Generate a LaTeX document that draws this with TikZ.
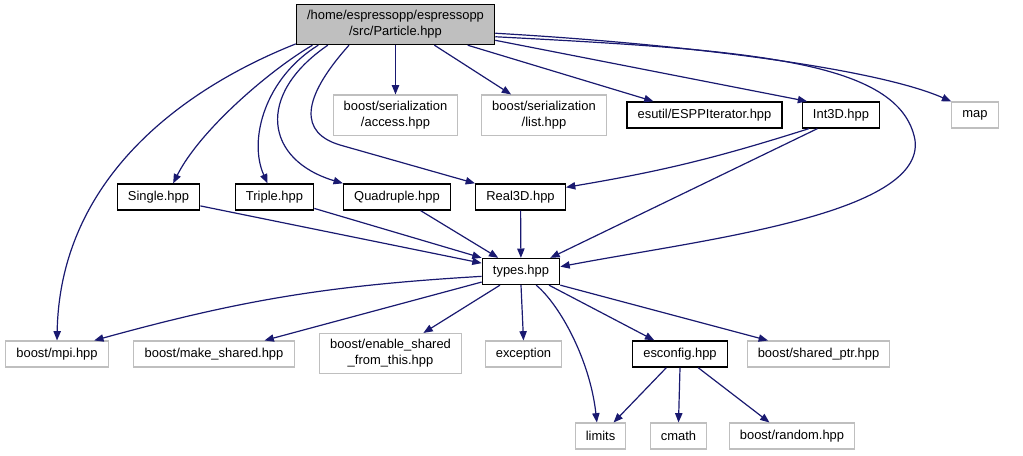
\documentclass[tikz,border=0pt]{standalone}
\usepackage{fontspec}
\setmainfont{Liberation Sans}
\usetikzlibrary{arrows.meta}
\definecolor{edgeblue}{HTML}{191970}
\definecolor{boxgray}{HTML}{BFBFBF}
\begin{document}
\begin{tikzpicture}[x=0.75pt,y=-0.75pt,>={Triangle[length=7pt,width=5.5pt]},
  file/.style={draw=black,line width=1pt,fill=white,inner xsep=8pt,inner ysep=4.5pt,
    minimum height=19.5pt,align=center,font=\fontsize{9.7}{12}\selectfont},
  sys/.style={file,draw=boxgray,line width=0.8pt},
  dep/.style={->,draw=edgeblue,line width=0.9pt}]
\useasboundingbox (0,0) rectangle (1023,455);
% 文件
\node[file,fill=boxgray] (part) at (395.5,24.5) {/home/espressopp/espressopp\\/src/Particle.hpp};
\node[sys] (acc) at (395.5,115) {boost/serialization\\/access.hpp};
\node[sys] (lst) at (544,115) {boost/serialization\\/list.hpp};
\node[file] (espp) at (704.5,115) {esutil/ESPPIterator.hpp};
\node[file] (int) at (841,115) {Int3D.hpp};
\node[sys] (map) at (975,115) {map};
\node[file] (sgl) at (158.5,197) {Single.hpp};
\node[file] (tpl) at (274.5,197) {Triple.hpp};
\node[file] (quad) at (397,197) {Quadruple.hpp};
\node[file] (real) at (520.5,197) {Real3D.hpp};
\node[file] (typ) at (521,271.5) {types.hpp};
\node[sys] (mpi) at (57,354) {boost/mpi.hpp};
\node[sys] (mks) at (214,354) {boost/make\_shared.hpp};
\node[sys] (ens) at (390.5,353.5) {boost/enable\_shared\\\_from\_this.hpp};
\node[sys] (exc) at (523.5,354) {exception};
\node[file] (esc) at (680,354) {esconfig.hpp};
\node[sys] (shp) at (818.5,354) {boost/shared\_ptr.hpp};
\node[sys] (lim) at (600.5,436) {limits};
\node[sys] (cm) at (678.5,436) {cmath};
\node[sys] (rnd) at (792,436) {boost/random.hpp};
% Particle.hpp 的依赖
\draw[dep] (part.191) .. controls (180,90) and (60,180) .. (mpi.north);
\draw[dep] (part.194) .. controls (270,70) and (200,130) .. (sgl.43);
\draw[dep] (part.195) .. controls (265,78) and (248,140) .. (tpl.117);
\draw[dep] (part.197) .. controls (255,95) and (265,160) .. (quad.north west);
\draw[dep] (part.204) .. controls (300,100) and (300,133) .. (340,145) -- (real.north west);
\draw[dep] (part) -- (acc);
\draw[dep] (part.332) -- (lst.148);
\draw[dep] (part.344) -- (espp.165);
\draw[dep] (part.351) -- (int.158);
\draw[dep] (part.355) .. controls (700,45) and (880,70) .. (map.north west);
\draw[dep] (part.353) .. controls (750,50) and (900,60) .. (915,140)
  .. controls (925,215) and (700,240) .. (typ.7);
% 中间层
\draw[dep] (int.203) to[bend left=4] (real.12);
\draw[dep] (int.210) -- (typ.25);
\draw[dep] (real) -- (typ);
\draw[dep] (sgl.348) -- (typ.168);
\draw[dep] (tpl.344) -- (typ.north west);
\draw[dep] (quad.330) -- (typ.149);
% types.hpp 的依赖
\draw[dep] (typ.187) to[bend right=6] (mpi.20);
\foreach \a/\b in {195/mks.15, 213/ens.32, south/exc.north, 334/esc.152, south east/shp.165}
  \draw[dep] (typ.\a) -- (\b);
\draw[dep] (typ.318) .. controls (560,305) and (590,360) .. (lim.105);
% esconfig.hpp 的依赖
\foreach \a/\b in {225/lim.46, south/cm.north, 323/rnd.149}
  \draw[dep] (esc.\a) -- (\b);
\end{tikzpicture}
\end{document}
